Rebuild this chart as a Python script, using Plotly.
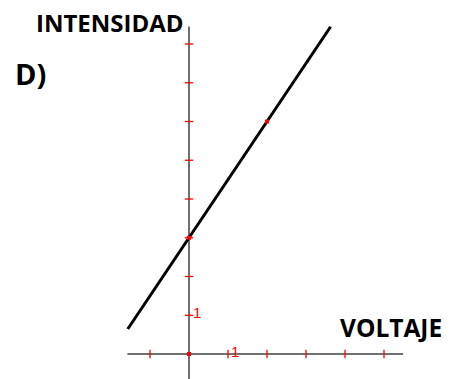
import plotly.graph_objects as go

# data
x_ticks = [-1, 1, 2, 3, 4, 5]
y_ticks = [1, 2, 3, 4, 5, 6, 7, 8]
points_x = [0, 0, 2]
points_y = [0, 3, 6]
line_x = [-1.57, 3.63]
line_y = [0.645, 8.445]
x_axis_extent = [-1.58, 5.49]
y_axis_extent = [-0.7, 8.45]

W, H = 450, 379
X0, Y0 = 189, 354      # pixel of origin
SX, SY = 39.0, 38.75   # pixels per unit

xr = [(0 - X0) / SX, (W - X0) / SX]
yr = [(Y0 - H) / SY, Y0 / SY]


def px(x):
    return x / W


def py(y):
    return 1 - y / H


fig = go.Figure()
axis_col = "#404040"
fig.add_trace(go.Scatter(x=x_axis_extent, y=[0, 0], mode="lines",
                         line=dict(color=axis_col, width=1.5), hoverinfo="skip"))
fig.add_trace(go.Scatter(x=[0, 0], y=y_axis_extent, mode="lines",
                         line=dict(color=axis_col, width=1.5), hoverinfo="skip"))
fig.add_trace(go.Scatter(x=x_ticks, y=[0] * len(x_ticks), mode="markers",
                         marker=dict(symbol="line-ns", size=6, line=dict(color="red", width=1.3)),
                         hoverinfo="skip"))
fig.add_trace(go.Scatter(x=[0] * len(y_ticks), y=y_ticks, mode="markers",
                         marker=dict(symbol="line-ew", size=6, line=dict(color="red", width=1.3)),
                         hoverinfo="skip"))
fig.add_trace(go.Scatter(x=line_x, y=line_y, mode="lines",
                         line=dict(color="black", width=3), hoverinfo="skip"))
fig.add_trace(go.Scatter(x=points_x, y=points_y, mode="markers",
                         marker=dict(symbol="square", size=4, color="red"),
                         hoverinfo="skip"))

red_font = dict(family="Liberation Sans", size=15, color="#ff0000")
fig.add_annotation(x=1, y=0, text="1", showarrow=False, xanchor="left", yanchor="middle",
                   xshift=1, yshift=3, font=red_font)
fig.add_annotation(x=0, y=1, text="1", showarrow=False, xanchor="left", yanchor="middle",
                   xshift=2, yshift=3, font=red_font)

fam = "Open Sans"
fig.add_annotation(x=px(35), y=py(22), xref="paper", yref="paper", text="<b>INTENSIDAD</b>",
                   showarrow=False, xanchor="left", yanchor="middle", borderpad=0,
                   font=dict(family=fam, size=24, color="black"))
fig.add_annotation(x=px(13), y=py(74), xref="paper", yref="paper", text="<b>D)</b>",
                   showarrow=False, xanchor="left", yanchor="middle",
                   font=dict(family=fam, size=29, color="black"))
fig.add_annotation(x=px(338), y=py(327), xref="paper", yref="paper", text="<b>VOLTAJE</b>",
                   showarrow=False, xanchor="left", yanchor="middle",
                   font=dict(family=fam, size=24.5, color="black"))

fig.update_layout(width=W, height=H, margin=dict(l=0, r=0, t=0, b=0),
                  paper_bgcolor="white", plot_bgcolor="white", showlegend=False,
                  xaxis=dict(range=xr, visible=False, fixedrange=True),
                  yaxis=dict(range=yr, visible=False, fixedrange=True))
fig.write_html("out.html", config={"displayModeBar": False},
               post_script="document.body.style.margin='0';document.body.style.padding='0';")
